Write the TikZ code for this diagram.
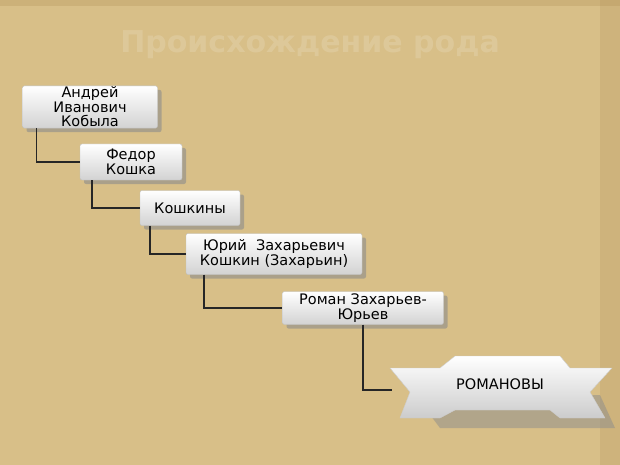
\documentclass[tikz,border=0pt]{standalone}
\usepackage{fontspec}
\setmainfont{DejaVu Sans}
\usetikzlibrary{positioning,shadows}
\definecolor{parch}{HTML}{D8BF88}
\definecolor{parchdark}{HTML}{B39159}
\tikzset{
  gen/.style={rounded corners=2pt, top color=white, bottom color=gray!35,
    draw=gray!50, align=center, font=\fontsize{14.5}{14.5}\selectfont,
    inner sep=1pt, drop shadow={shadow xshift=4pt, shadow yshift=-4pt, fill=black!45, opacity=.6}},
  link/.style={draw=black!85, line width=1.5pt}
}
\begin{document}
\begin{tikzpicture}[x=1pt,y=-1pt]
  \fill[parch] (0,0) rectangle (620,465);
  \fill[parchdark, opacity=.3] (0,0) rectangle (620,6);
  \fill[parchdark, opacity=.25] (600,0) rectangle (620,465);
  \node[text=white, opacity=.15, font=\bfseries\fontsize{30}{32}\selectfont] (title) at (310,45) {Происхождение рода};
  % generations
  \node[gen, minimum width=135pt, minimum height=42pt] (andrey) at (90,107) {Андрей\\Иванович\\Кобыла};
  \node[gen, minimum width=102pt, minimum height=36pt] (fedor) at (131,162) {Федор\\Кошка};
  \node[gen, minimum width=100pt, minimum height=35pt] (koshkin) at (190,208) {Кошкины};
  \node[gen, minimum width=176pt, minimum height=41pt] (yuriy) at (274,254) {Юрий~ Захарьевич\\Кошкин (Захарьин)};
  \node[gen, minimum width=161pt, minimum height=33pt] (roman) at (363,308) {Роман Захарьев-\\Юрьев};
  % ribbon
  \fill[black!45, opacity=.5] (415,395) -- (600,395) -- (615,428) -- (440,428) -- cycle;
  \shade[top color=white, bottom color=gray!40, draw=gray!40]
    (390,368) -- (440,368) -- (455,356) -- (560,356) -- (570,368) -- (612,368)
    -- (590,392) -- (605,418) -- (560,418) -- (550,410) -- (455,410) -- (440,418) -- (400,418)
    -- (410,392) -- cycle;
  \node[font=\fontsize{14.5}{15}\selectfont] (romanovy) at (500,384) {РОМАНОВЫ};
  \coordinate (rib) at (392,390);
  % connectors
  \draw[link] (andrey.south west) ++(14,0) |- (fedor.west);
  \draw[link] (fedor.south west) ++(12,0) |- (koshkin.west);
  \draw[link] (koshkin.south west) ++(10,0) |- (yuriy.west);
  \draw[link] (yuriy.south west) ++(18,0) |- (roman.west);
  \draw[link] (roman.south) |- (rib);
\end{tikzpicture}
\end{document}
